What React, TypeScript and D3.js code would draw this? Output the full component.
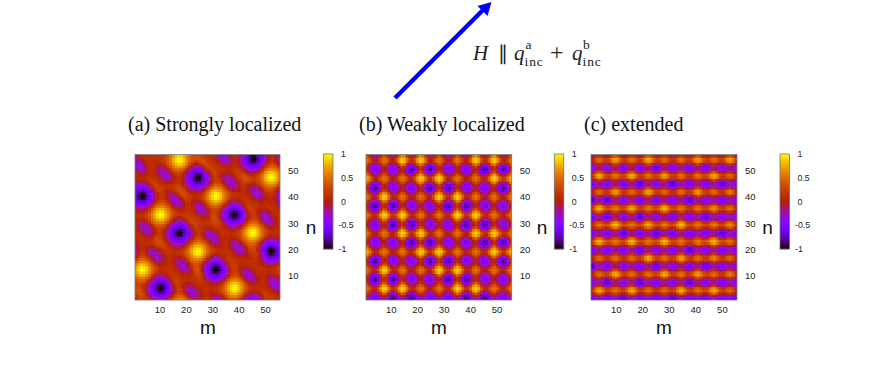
import React, { useMemo } from 'react';
import { scaleLinear, range } from 'd3';

const width = 872;
const height = 379;

type Blob = [number, number, number]; // m, n, level

// panel (a): blob centres
const aTroughs: Blob[] = [
  [45.4, 54.1, -1], [24.3, 46.9, -1], [3.3, 40, -1], [38.2, 33, -1],
  [17.3, 26.1, -1], [52.1, 19.1, -1], [31.2, 12.2, -1], [10.2, 5.2, -1],
  [45.4, -1.8, -1], [-3.8, 19.1, -1], [59.2, 40, -1], [-3.8, 61, -1],
];
const aPeaks: Blob[] = [
  [17.3, 53.7, 1], [52.1, 47.2, 1], [31.2, 40, 1], [10.2, 33, 1],
  [45.1, 26.1, 1], [24.3, 19.1, 1], [3.3, 12.2, 1], [38.2, 5.2, 1], [17.3, -1.7, 0.9],
];
const aWeak: Blob[] = [
  [11.9, 48.4, -0.32], [36.5, 45.3, -0.32], [46.6, 41.5, -0.32], [15.7, 38.3, -0.32],
  [25.8, 35.2, -0.32], [50.4, 31.4, -0.32], [4.9, 27.6, -0.32], [29.6, 24.4, -0.32],
  [39.7, 20.6, -0.32], [8.1, 17.5, -0.32], [18.8, 13.7, -0.32], [43.5, 9.9, -0.32],
  [53.6, 6.8, -0.32], [22, 3.6, -0.32], [32.7, -0.2, -0.32], [1.8, 51.6, -0.32],
  [34, 54.7, -0.32], [57, 53, -0.32], [-3.5, 3, -0.32],
];
const aGlow: Blob[] = [
  [28.9, 49.7, 0.36], [7.9, 43.4, 0.36], [43, 35.7, 0.36], [22, 30, 0.36],
  [59, 22, 0.36], [36, 14.7, 0.36], [15, 8, 0.36], [50, 1, 0.36],
  [18.2, 41.5, 0.36], [30.8, 31.4, 0.36], [9.3, 23.2, 0.36], [47.3, 18.1, 0.36],
  [24.5, 11.2, 0.36], [42.2, 47, 0.36], [25.8, 52.8, 0.36], [57, 12, 0.36], [2, 3.5, 0.36],
];

// panel (b): a square lattice of troughs and peaks
const bTroughCols = [3.9, 10.8, 17.7, 24.6, 31.5, 38.4, 45.3, 52.2];
const bTroughRows = [57, 50.1, 43.1, 36.2, 29.2, 22.3, 15.3, 8.4, 1.5];
const bTroughLevels = [
  [-0.5, -0.5, -0.5, -0.5, -0.5, -0.5, -0.5, -0.5],
  [-0.5, -0.5, -1, -1, -0.5, -0.5, -1, -1],
  [-1, -0.5, -0.5, -1, -1, -0.5, -0.5, -1],
  [-1, -1, -0.5, -0.5, -1, -1, -0.5, -0.5],
  [-0.5, -1, -1, -0.5, -0.5, -1, -1, -0.5],
  [-0.5, -0.5, -1, -1, -0.5, -0.5, -1, -1],
  [-1, -0.5, -0.5, -1, -1, -0.5, -0.5, -1],
  [-1, -1, -0.5, -0.5, -1, -1, -0.5, -0.5],
  [-0.5, -1, -1, -0.5, -0.5, -1, -1, -0.5],
];
const bPeakCols = [0.5, 7.4, 14.3, 21.2, 28.1, 35.1, 42, 49, 55.5];
const bPeakRows = [53.7, 46.8, 39.8, 32.9, 26, 19, 12.1, 5.1];
const bPeakLevels = [
  [0.55, 0.55, 0.9, 0.9, 0.55, 0.55, 0.9, 0.9, 0.55],
  [0.8, 0.55, 0.55, 0.9, 0.9, 0.55, 0.55, 0.9, 0.8],
  [0.55, 0.9, 0.55, 0.55, 0.9, 0.9, 0.55, 0.55, 0.6],
  [0.55, 0.9, 0.9, 0.55, 0.55, 0.9, 0.9, 0.55, 0.55],
  [0.55, 0.55, 0.9, 0.9, 0.55, 0.55, 0.9, 0.9, 0.55],
  [0.8, 0.55, 0.55, 0.9, 0.9, 0.55, 0.55, 0.9, 0.8],
  [0.55, 0.9, 0.55, 0.55, 0.9, 0.9, 0.55, 0.55, 0.6],
  [0.55, 0.9, 0.9, 0.55, 0.55, 0.9, 0.9, 0.55, 0.55],
];

// panel (c): flatter stripes
const cPeakCols = [3.6, 9.7, 15.8, 22.1, 28.1, 34.4, 40.7, 46.7, 52.9];
const cPeakRows = [53.7, 47.8, 41.5, 35.2, 29.1, 22.8, 16.6, 10.5, 4.2];
const cPeakLevels = [
  [0.6, 0.8, 0.6, 0.85, 0.6, 0.6, 0.8, 0.6, 0.85],
  [0.85, 0.6, 0.85, 0.6, 0.8, 0.6, 0.6, 0.85, 0.6],
  [0.6, 0.8, 0.6, 0.85, 0.6, 0.6, 0.8, 0.6, 0.7],
  [0.85, 0.6, 0.8, 0.6, 0.85, 0.6, 0.6, 0.7, 0.6],
  [0.6, 0.85, 0.6, 0.8, 0.6, 0.85, 0.6, 0.6, 0.7],
  [0.85, 0.6, 0.85, 0.6, 0.85, 0.6, 0.6, 0.85, 0.6],
  [0.6, 0.6, 0.6, 0.85, 0.6, 0.8, 0.6, 0.7, 0.6],
  [0.6, 0.85, 0.6, 0.6, 0.85, 0.6, 0.8, 0.6, 0.7],
  [0.85, 0.6, 0.85, 0.6, 0.6, 0.85, 0.6, 0.85, 0.6],
];
const cTroughCols = [0.5, 6.5, 12.8, 19, 25.2, 31.3, 37.6, 43.8, 49.9, 55.8];
const cTroughRows = [56.8, 50.7, 44.6, 38.6, 32.3, 26, 19.6, 13.5, 7.4, 1.3];
const cTroughLevels = [
  [-0.5, -0.5, -0.5, -0.5, -0.5, -0.5, -0.5, -0.5, -0.5, -0.5],
  [-0.5, -0.6, -0.7, -0.7, -1, -0.6, -0.7, -1, -0.6, -0.5],
  [-0.6, -0.6, -0.7, -1, -0.6, -1, -0.6, -0.7, -1, -0.6],
  [-1, -1, -0.6, -0.7, -0.8, -0.6, -1, -0.6, -0.7, -0.6],
  [-0.7, -1, -0.6, -1, -0.6, -0.7, -0.6, -1, -0.6, -0.6],
  [-0.6, -0.7, -1, -0.6, -1, -0.7, -0.6, -0.7, -1, -0.6],
  [-0.6, -0.7, -0.6, -1, -0.7, -0.7, -1, -0.6, -0.7, -0.6],
  [-1, -0.7, -0.6, -0.6, -1, -0.6, -0.7, -1, -0.6, -0.6],
  [-0.6, -1, -0.6, -1, -0.7, -0.6, -1, -0.6, -0.7, -0.6],
  [-0.6, -0.7, -1, -0.6, -0.7, -1, -0.6, -0.7, -0.6, -0.6],
];

const titles = ['(a) Strongly localized', '(b) Weakly localized', '(c) extended'];
const axisTicks = [10, 20, 30, 40, 50];
const barTicks = [1, 0.5, 0, -0.5, -1];
const cells = range(1, 56);

const grid = (cols: number[], rows: number[], levels: number[][]): Blob[] =>
  rows.flatMap((n, i) => cols.map((m, j): Blob => [m, n, levels[i][j]]));

// gnuplot's default pm3d palette
const palette = (v: number) => {
  const t = Math.min(1, Math.max(0, (v + 1) / 2));
  const r = Math.sqrt(t);
  const g = t * t * t;
  const b = Math.max(0, Math.sin(2 * Math.PI * t));
  return `rgb(${Math.round(r * 255)},${Math.round(g * 255)},${Math.round(b * 255)})`;
};

type Layer = {
  blobs: Blob[];
  sx: number;
  sy: number;
  power: number;
  tilt?: boolean;
  amp: (level: number) => number;
};

const fieldAt = (m: number, n: number, base: number, layers: Layer[]) => {
  let v = base;
  layers.forEach(({ blobs, sx, sy, power, tilt, amp }) => {
    blobs.forEach(([bm, bn, level]) => {
      let dx = m - bm;
      let dy = n - bn;
      if (tilt) {
        // stretched along the (1,-1) diagonal
        const u = (dx - dy) / Math.SQRT2;
        const w = (dx + dy) / Math.SQRT2;
        dx = u;
        dy = w;
      }
      const r = (dx * dx) / (2 * sx * sx) + (dy * dy) / (2 * sy * sy);
      v += amp(level) * Math.exp(-Math.pow(r, power));
    });
  });
  return v;
};

const panels = [
  {
    left: 135, right: 280, bar: 323.5, nx: 311, mx: 208, tx: 128, base: 0.12,
    layers: [
      { blobs: aTroughs, sx: 3.7, sy: 3.7, power: 2, amp: () => -0.7 },
      { blobs: aTroughs, sx: 1.4, sy: 1.4, power: 1, amp: (l) => (l + 0.5) * 0.95 },
      { blobs: aPeaks, sx: 2.8, sy: 2.8, power: 1, amp: (l) => l - 0.12 },
      { blobs: aWeak, sx: 2.9, sy: 1.75, power: 1.6, tilt: true, amp: (l) => l - 0.12 },
      { blobs: aGlow, sx: 2.6, sy: 1.3, power: 1, tilt: true, amp: (l) => l - 0.12 },
    ] as Layer[],
  },
  {
    left: 366, right: 511.7, bar: 554.3, nx: 542, mx: 439, tx: 359, base: 0.08,
    layers: [
      {
        blobs: grid(bTroughCols, bTroughRows, bTroughLevels),
        sx: 2.3, sy: 2.3, power: 2, amp: () => -0.62,
      },
      {
        blobs: grid(bTroughCols, bTroughRows, bTroughLevels),
        sx: 1.25, sy: 1.25, power: 1, amp: (l) => (l + 0.5) * 0.85,
      },
      {
        blobs: grid(bPeakCols, bPeakRows, bPeakLevels),
        sx: 2.15, sy: 2.15, power: 1.2, amp: (l) => l - 0.08,
      },
    ] as Layer[],
  },
  {
    left: 591, right: 737, bar: 780, nx: 767.5, mx: 664, tx: 584, base: 0.1,
    layers: [
      {
        blobs: grid(cTroughCols, cTroughRows, cTroughLevels),
        sx: 2.35, sy: 1.85, power: 1.6, amp: () => -0.72,
      },
      {
        blobs: grid(cTroughCols, cTroughRows, cTroughLevels),
        sx: 1.05, sy: 0.95, power: 1, amp: (l) => (l + 0.5) * 0.8,
      },
      {
        blobs: grid(cPeakCols, cPeakRows, cPeakLevels),
        sx: 2.2, sy: 2.0, power: 1.1, amp: (l) => l - 0.1,
      },
    ] as Layer[],
  },
];

const top = 154.5;
const bottom = 300;
const sans = '"Liberation Sans", Arial, sans-serif';
const serif = '"Liberation Serif", "Times New Roman", serif';

const Panel = ({ p, idx }: { p: (typeof panels)[number]; idx: number }) => {
  const x = scaleLinear().domain([0.5, 55.5]).range([p.left, p.right]);
  const y = scaleLinear().domain([0.9, 56]).range([bottom, top]);
  const barY = scaleLinear().domain([1, -1]).range([154, 249]);
  const values = useMemo(
    () => cells.map((n) => cells.map((m) => fieldAt(m, n + 0.05, p.base, p.layers))),
    [p]
  );
  return (
    <g>
      <text x={p.tx} y={131} fontFamily={serif} fontSize={20} fill="#111">
        {titles[idx]}
      </text>
      <clipPath id={`clip${idx}`}>
        <rect x={p.left} y={top} width={p.right - p.left} height={bottom - top} />
      </clipPath>
      <g clipPath={`url(#clip${idx})`}>
        <g filter="url(#soft)">
          {cells.map((n, i) =>
            cells.map((m, j) => (
              <rect
                key={`${m}-${n}`}
                x={x(m - 0.5)}
                y={y(n + 1)}
                width={x(m + 0.5) - x(m - 0.5) + 0.6}
                height={y(n) - y(n + 1) + 0.6}
                fill={palette(values[i][j])}
              />
            ))
          )}
        </g>
      </g>
      <rect
        x={p.left}
        y={top}
        width={p.right - p.left}
        height={bottom - top}
        fill="none"
        stroke="#777"
        strokeWidth={0.8}
      />
      {axisTicks.map((t) => (
        <text
          key={`x${t}`}
          x={x(t)}
          y={312.5}
          textAnchor="middle"
          fontFamily={sans}
          fontSize={9.5}
          fill="#222"
        >
          {t}
        </text>
      ))}
      {axisTicks.map((t) => (
        <text
          key={`y${t}`}
          x={p.right + 8}
          y={y(t) + 3.5}
          fontFamily={sans}
          fontSize={9.5}
          fill="#222"
        >
          {t}
        </text>
      ))}
      <text x={p.mx} y={334} textAnchor="middle" fontFamily={sans} fontSize={19} fill="#111">
        m
      </text>
      <text x={p.nx} y={234} textAnchor="middle" fontFamily={sans} fontSize={19} fill="#111">
        n
      </text>
      {range(0, 95).map((i) => (
        <rect
          key={i}
          x={p.bar}
          y={154 + i}
          width={9.5}
          height={1.3}
          fill={palette(barY.invert(154 + i + 0.5))}
        />
      ))}
      <rect x={p.bar} y={154} width={9.5} height={95} fill="none" stroke="#777" strokeWidth={0.8} />
      {barTicks.map((t) => (
        <text
          key={t}
          x={p.bar + (t < 0 ? 15 : 17.5)}
          y={barY(t) + 3}
          fontFamily={sans}
          fontSize={8.8}
          fill="#222"
        >
          {t}
        </text>
      ))}
    </g>
  );
};

export default function App() {
  return (
    <svg
      width={width}
      height={height}
      style={{ position: 'absolute', left: 0, top: 0, background: '#fff' }}
    >
      <defs>
        <filter id="soft" x="-5%" y="-5%" width="110%" height="110%">
          <feGaussianBlur stdDeviation={0.6} />
        </filter>
      </defs>
      <line x1={395} y1={98} x2={484} y2={9} stroke="#0000ff" strokeWidth={4.4} />
      <path d="M491.5,2 L487.5,16 L477.5,6 Z" fill="#0000ff" />
      <g fontFamily={serif} fill="#222">
        <text x={473} y={59.5} fontSize={21} fontStyle="italic">H</text>
        <text x={498} y={59.5} fontSize={20}>∥</text>
        <text x={514} y={59.5} fontSize={21} fontStyle="italic">q</text>
        <text x={525.5} y={48.5} fontSize={13.5}>a</text>
        <text x={524.5} y={65.5} fontSize={13.5} letterSpacing={0.9}>inc</text>
        <text x={550} y={60} fontSize={24}>+</text>
        <text x={572} y={59.5} fontSize={21} fontStyle="italic">q</text>
        <text x={583} y={48.5} fontSize={13.5}>b</text>
        <text x={582.5} y={65.5} fontSize={13.5} letterSpacing={0.9}>inc</text>
      </g>
      {panels.map((p, i) => (
        <Panel key={i} p={p} idx={i} />
      ))}
    </svg>
  );
}
